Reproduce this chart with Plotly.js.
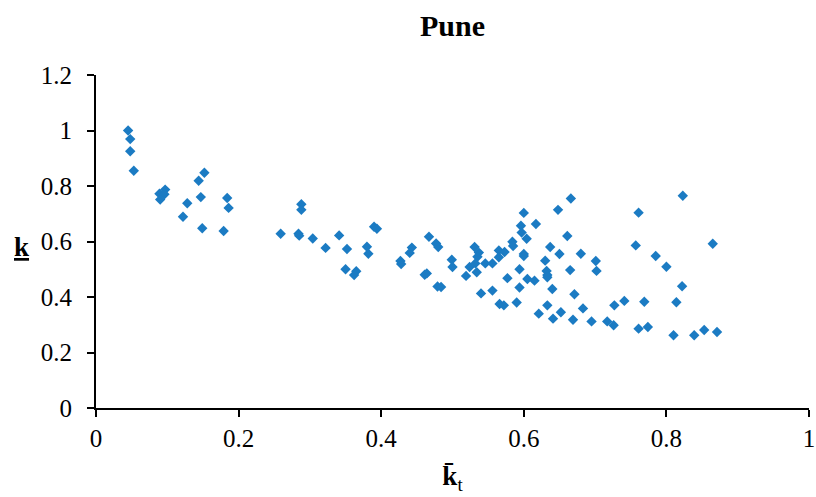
<!DOCTYPE html>
<html>
<head>
<meta charset="utf-8">
<script src="https://cdn.plot.ly/plotly-3.0.1.min.js"></script>
<style>html,body{margin:0;padding:0;background:#fff;}#chart{width:816px;height:497px;}</style>
</head>
<body>
<div id="chart"></div>
<script>
const chartTitle = "Pune";
const xTickVals = [0, 0.2, 0.4, 0.6, 0.8, 1];
const yTickVals = [0, 0.2, 0.4, 0.6, 0.8, 1, 1.2];

const ktBar = [
  0.045, 0.048, 0.048, 0.053, 0.152, 0.144, 0.097, 0.089, 0.096, 0.090,
  0.128, 0.147, 0.184, 0.186, 0.122, 0.149, 0.179, 0.259,
  0.288, 0.288, 0.284, 0.285, 0.304, 0.322, 0.341, 0.352, 0.350, 0.365,
  0.362, 0.390, 0.394, 0.380, 0.382, 0.427, 0.428, 0.443, 0.440, 0.467,
  0.477, 0.480, 0.461, 0.464, 0.479, 0.484,
  0.499, 0.500, 0.519, 0.524, 0.531, 0.537, 0.535, 0.532, 0.534, 0.546,
  0.556, 0.540, 0.556, 0.565, 0.573, 0.565, 0.566, 0.572, 0.577, 0.584,
  0.585, 0.590, 0.594, 0.594, 0.600, 0.596, 0.597, 0.604, 0.600, 0.600,
  0.605, 0.615, 0.617, 0.621, 0.630, 0.632, 0.633, 0.633, 0.633, 0.640,
  0.641, 0.637, 0.648, 0.650, 0.652, 0.661, 0.665, 0.669, 0.671, 0.666,
  0.680, 0.701, 0.702, 0.683, 0.695, 0.717, 0.726, 0.727, 0.741, 0.761,
  0.757, 0.761, 0.769, 0.774, 0.785, 0.800, 0.823, 0.822, 0.814, 0.810,
  0.839, 0.853, 0.865, 0.871
];
const kBar = [
  1.000, 0.969, 0.925, 0.855, 0.848, 0.819, 0.787, 0.772, 0.770, 0.751,
  0.738, 0.760, 0.757, 0.721, 0.689, 0.648, 0.638, 0.628,
  0.734, 0.714, 0.628, 0.621, 0.611, 0.577, 0.622, 0.573, 0.500, 0.493,
  0.479, 0.653, 0.646, 0.581, 0.556, 0.530, 0.519, 0.578, 0.559, 0.617,
  0.593, 0.580, 0.480, 0.485, 0.438, 0.436,
  0.534, 0.508, 0.476, 0.508, 0.580, 0.560, 0.545, 0.521, 0.489, 0.521,
  0.521, 0.413, 0.423, 0.568, 0.562, 0.543, 0.375, 0.370, 0.468, 0.599,
  0.584, 0.380, 0.500, 0.434, 0.703, 0.657, 0.632, 0.610, 0.555, 0.548,
  0.465, 0.459, 0.663, 0.340, 0.531, 0.494, 0.479, 0.471, 0.370, 0.429,
  0.322, 0.580, 0.714, 0.555, 0.345, 0.620, 0.497, 0.318, 0.410, 0.755,
  0.556, 0.530, 0.494, 0.359, 0.312, 0.312, 0.298, 0.370, 0.386, 0.704,
  0.586, 0.286, 0.383, 0.292, 0.548, 0.509, 0.765, 0.439, 0.381, 0.262,
  0.262, 0.281, 0.592, 0.274
];

const serif = "Liberation Serif";

const trace = {
  type: "scatter",
  mode: "markers",
  x: ktBar,
  y: kBar,
  marker: {symbol: "diamond", size: 8, color: "#1b7bc3", line: {width: 0}},
  hoverinfo: "x+y",
  showlegend: false
};

const axisCommon = {
  showgrid: false,
  zeroline: false,
  showline: true,
  linecolor: "#000",
  linewidth: 2,
  ticks: "outside",
  ticklen: 7,
  tickwidth: 2,
  tickcolor: "#000",
  tickfont: {family: serif, size: 25, color: "#000"},
  fixedrange: true
};

const layout = {
  width: 816,
  height: 497,
  paper_bgcolor: "#fff",
  plot_bgcolor: "#fff",
  margin: {l: 96, r: 7, t: 75, b: 89},
  title: {
    text: "<b>" + chartTitle + "</b>",
    font: {family: serif, size: 30, color: "#000"},
    x: 0.5, xanchor: "center", xref: "paper",
    y: 0.948, yanchor: "middle", yref: "container"
  },
  xaxis: Object.assign({}, axisCommon, {
    range: [0, 1],
    tickvals: xTickVals,
    ticktext: xTickVals.map(String),
    title: {text: "<b>k\u0304</b><sub>t</sub>", font: {family: serif, size: 27, color: "#000"}, standoff: 15}
  }),
  yaxis: Object.assign({}, axisCommon, {
    range: [0, 1.2],
    tickvals: yTickVals,
    ticktext: yTickVals.map(String),
    ticklabelstandoff: 10
  }),
  annotations: [{
    text: "<b><u>k</u></b>",
    xref: "paper", yref: "y",
    x: -0.104, y: 0.58,
    xanchor: "center", yanchor: "middle",
    showarrow: false,
    font: {family: serif, size: 27, color: "#000"}
  }]
};

Plotly.newPlot("chart", [trace], layout, {displayModeBar: false, staticPlot: true});
</script>
</body>
</html>
